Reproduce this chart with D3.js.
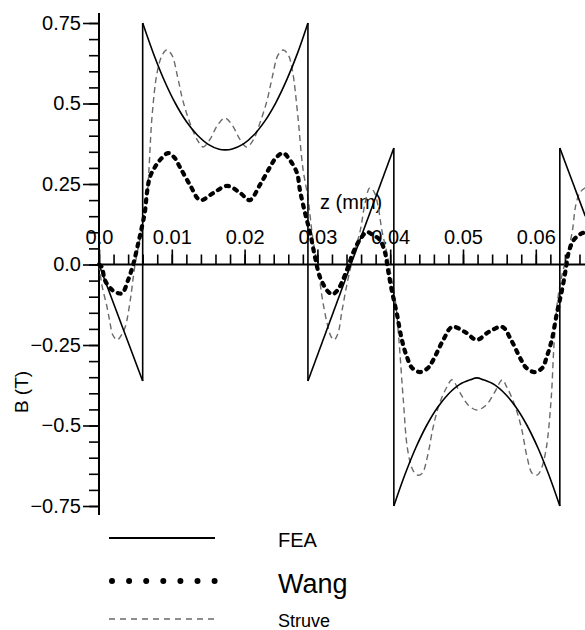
<!DOCTYPE html>
<html>
<head>
<meta charset="utf-8">
<script src="https://cdn.jsdelivr.net/npm/d3@7"></script>
<style>
  html, body { margin: 0; padding: 0; background: #fff; }
  svg { display: block; }
  text { font-family: "Liberation Sans", Arial, sans-serif; fill: #000; }
</style>
</head>
<body>
<svg id="chart" width="585" height="630"></svg>
<script>
// ---------- DATA (z in mm, B in T) ----------
const feaZ = [0, 0.0060, 0.0060, 0.0075, 0.0090, 0.0105, 0.0120, 0.0135, 0.0150, 0.0165, 0.0174, 0.0183, 0.0198, 0.0213, 0.0228, 0.0243, 0.0258, 0.0273, 0.0287,
  0.0287, 0.0405,
  0.0405, 0.0420, 0.0435, 0.0450, 0.0465, 0.0480, 0.0495, 0.0510, 0.0519, 0.0528, 0.0543, 0.0558, 0.0573, 0.0588, 0.0603, 0.0618, 0.0633,
  0.0633, 0.0668];
const feaB = [0, -0.362, 0.75, 0.654, 0.570, 0.500, 0.444, 0.402, 0.373, 0.358, 0.356, 0.359, 0.374, 0.403, 0.446, 0.503, 0.574, 0.658, 0.75,
  -0.362, 0.362,
  -0.75, -0.654, -0.570, -0.500, -0.444, -0.402, -0.373, -0.358, -0.352, -0.358, -0.373, -0.402, -0.444, -0.500, -0.570, -0.654, -0.75,
  0.362, 0.150];

const wangZ = [0, 0.0004, 0.0008, 0.0018, 0.0026, 0.0032, 0.0040, 0.0047, 0.0054, 0.0058, 0.0063, 0.0066, 0.0070, 0.0077, 0.0084, 0.0095, 0.0104, 0.0111, 0.0125, 0.0139,
  0.0157, 0.0176, 0.0194, 0.0207, 0.0221, 0.0235, 0.0243, 0.0253, 0.0262, 0.0272, 0.0276, 0.0283, 0.0290, 0.0297, 0.0304, 0.0315, 0.0321, 0.0328, 0.0335, 0.0342,
  0.0349, 0.0358, 0.0368, 0.0376, 0.0386, 0.0393, 0.0397, 0.0402, 0.0409, 0.0416, 0.0423, 0.0430, 0.0441, 0.0452, 0.0459, 0.0473, 0.0485, 0.0503, 0.0519, 0.0535,
  0.0554, 0.0566, 0.0580, 0.0587, 0.0598, 0.0609, 0.0615, 0.0622, 0.0629, 0.0636, 0.0641, 0.0645, 0.0652, 0.0661, 0.0668];
const wangB = [0, -0.008, -0.048, -0.079, -0.089, -0.089, -0.048, 0.000, 0.067, 0.107, 0.163, 0.225, 0.272, 0.303, 0.325, 0.346, 0.331, 0.303, 0.247, 0.200,
  0.222, 0.244, 0.222, 0.200, 0.247, 0.303, 0.331, 0.346, 0.325, 0.284, 0.231, 0.160, 0.098, 0.020, -0.042, -0.085, -0.092, -0.079, -0.048, -0.008,
  0.036, 0.076, 0.101, 0.092, 0.076, 0.036, -0.017, -0.079, -0.151, -0.234, -0.287, -0.321, -0.334, -0.321, -0.297, -0.234, -0.194, -0.210, -0.234, -0.210,
  -0.194, -0.234, -0.297, -0.321, -0.334, -0.321, -0.287, -0.234, -0.151, -0.079, -0.017, 0.036, 0.076, 0.094, 0.101];

const struveZ = [0, 0.0004, 0.0011, 0.0015, 0.0019, 0.0025, 0.0030, 0.0036, 0.0043, 0.0049, 0.0058, 0.0066, 0.0073, 0.0080, 0.0087, 0.0093, 0.0100, 0.0108, 0.0115, 0.0125,
  0.0135, 0.0143, 0.0152, 0.0163, 0.0173, 0.0183, 0.0194, 0.0203, 0.0212, 0.0221, 0.0231, 0.0238, 0.0246, 0.0253, 0.0260, 0.0266, 0.0273, 0.0280, 0.0287, 0.0294,
  0.0301, 0.0306, 0.0313, 0.0319, 0.0323, 0.0328, 0.0334, 0.0341, 0.0349, 0.0359, 0.0365, 0.0372, 0.0378, 0.0383, 0.0389, 0.0396, 0.0401, 0.0407, 0.0412, 0.0418,
  0.0424, 0.0431, 0.0437, 0.0444, 0.0451, 0.0459, 0.0468, 0.0478, 0.0485, 0.0496, 0.0507, 0.0519, 0.0532, 0.0543, 0.0554, 0.0560, 0.0570, 0.0580, 0.0588, 0.0595,
  0.0602, 0.0607, 0.0614, 0.0621, 0.0625, 0.0630, 0.0636, 0.0643, 0.0650, 0.0655, 0.0661, 0.0668];
const struveB = [0, -0.064, -0.132, -0.179, -0.219, -0.234, -0.222, -0.194, -0.110, -0.008, 0.101, 0.216, 0.464, 0.598, 0.651, 0.666, 0.651, 0.582, 0.511, 0.439,
  0.387, 0.365, 0.387, 0.433, 0.455, 0.433, 0.387, 0.365, 0.387, 0.439, 0.511, 0.582, 0.651, 0.666, 0.651, 0.598, 0.464, 0.300, 0.207, 0.076,
  -0.011, -0.095, -0.179, -0.225, -0.234, -0.216, -0.141, -0.057, 0.023, 0.107, 0.185, 0.238, 0.225, 0.185, 0.101, 0.030, -0.033, -0.110, -0.234, -0.421,
  -0.576, -0.638, -0.654, -0.648, -0.598, -0.505, -0.430, -0.380, -0.358, -0.399, -0.436, -0.452, -0.436, -0.399, -0.358, -0.380, -0.430, -0.505, -0.598, -0.648,
  -0.654, -0.638, -0.576, -0.421, -0.250, -0.110, -0.033, 0.030, 0.101, 0.185, 0.225, 0.238];

const xTickValues = [0, 0.01, 0.02, 0.03, 0.04, 0.05, 0.06];
const xTickLabels = ["0.0", "0.01", "0.02", "0.03", "0.04", "0.05", "0.06"];
const yTickValues = [0.75, 0.5, 0.25, 0, -0.25, -0.5, -0.75];
const yTickLabels = ["0.75", "0.5", "0.25", "0.0", "\u22120.25", "\u22120.5", "\u22120.75"];
const xAxisTitle = "z (mm)";
const yAxisTitle = "B (T)";
const seriesNames = ["FEA", "Wang", "Struve"];

// ---------- SCALES ----------
const svg = d3.select("#chart");
const x = d3.scaleLinear().domain([0, 0.0668]).range([99, 99 + 7280 * 0.0668]);
const y = d3.scaleLinear().domain([-0.75, 0.75]).range([506, 23]);
const y0 = y(0);

// ---------- AXES ----------
const xMinor = d3.range(0, 34).map(i => i * 0.002);
const yMinor = d3.range(0, 31).map(i => -0.75 + i * 0.05);

// x-axis minor ticks (upwards)
svg.append("g").attr("transform", `translate(0,${y0})`)
  .call(d3.axisTop(x).tickValues(xMinor).tickSize(10).tickFormat(""))
  .call(g => g.select(".domain").remove())
  .call(g => g.selectAll("line").attr("stroke", "#000").attr("stroke-width", 1.6));
// x-axis major ticks with labels
const xLab = d3.scaleOrdinal().domain(xTickValues).range(xTickLabels);
svg.append("g").attr("transform", `translate(0,${y0})`)
  .call(d3.axisTop(x).tickValues(xTickValues).tickSize(15).tickPadding(6).tickFormat(d => xLab(d)))
  .call(g => g.select(".domain").remove())
  .call(g => g.selectAll("line").attr("stroke", "#000").attr("stroke-width", 1.6))
  .call(g => g.selectAll("text").attr("font-size", 20).attr("font-family", "Liberation Sans, Arial, sans-serif").attr("fill", "#000"));

// y-axis minor ticks
svg.append("g").attr("transform", `translate(${x(0)},0)`)
  .call(d3.axisLeft(y).tickValues(yMinor).tickSize(10).tickFormat(""))
  .call(g => g.select(".domain").remove())
  .call(g => g.selectAll("line").attr("stroke", "#000").attr("stroke-width", 1.6));
const yLab = d3.scaleOrdinal().domain(yTickValues).range(yTickLabels);
svg.append("g").attr("transform", `translate(${x(0)},0)`)
  .call(d3.axisLeft(y).tickValues(yTickValues).tickSize(16).tickPadding(2).tickFormat(d => yLab(d)))
  .call(g => g.select(".domain").remove())
  .call(g => g.selectAll("line").attr("stroke", "#000").attr("stroke-width", 1.6))
  .call(g => g.selectAll("text").attr("font-size", 20).attr("font-family", "Liberation Sans, Arial, sans-serif").attr("fill", "#000"));

// axis lines
svg.append("line").attr("x1", x(0)).attr("x2", 585).attr("y1", y0).attr("y2", y0)
  .attr("stroke", "#000").attr("stroke-width", 2);
svg.append("line").attr("x1", x(0)).attr("x2", x(0)).attr("y1", 13).attr("y2", 515)
  .attr("stroke", "#000").attr("stroke-width", 2);

// axis titles
svg.append("text").attr("x", 320).attr("y", 209).attr("font-size", 20).text(xAxisTitle);
svg.append("text").attr("transform", "translate(28,392) rotate(-90)")
  .attr("text-anchor", "middle").attr("font-size", 19).text(yAxisTitle);

// ---------- SERIES ----------
const plot = svg.append("g");
const line = d3.line().x(d => x(d[0])).y(d => y(d[1])).curve(d3.curveCatmullRom.alpha(0.5));
const linLine = d3.line().x(d => x(d[0])).y(d => y(d[1]));

// FEA: split into pieces at the jumps
const feaPts = feaZ.map((z, i) => [z, feaB[i]]);
const pieces = [];
let cur = [feaPts[0]];
for (let i = 1; i < feaPts.length; i++) {
  if (feaPts[i][0] === feaPts[i - 1][0]) {
    pieces.push(cur);
    pieces.push([feaPts[i - 1], feaPts[i]]); // vertical jump
    cur = [feaPts[i]];
  } else cur.push(feaPts[i]);
}
pieces.push(cur);

const struvePts = struveZ.map((z, i) => [z, struveB[i]]);
plot.append("path").attr("d", line(struvePts)).attr("fill", "none")
  .attr("stroke", "#6a6a6a").attr("stroke-width", 1.4).attr("stroke-dasharray", "6,4");

pieces.forEach(p => {
  plot.append("path").attr("d", p.length > 2 ? line(p) : linLine(p)).attr("fill", "none")
    .attr("stroke", "#000").attr("stroke-width", 1.6);
});

const wangPts = wangZ.map((z, i) => [z, wangB[i]]);
plot.append("path").attr("d", line(wangPts)).attr("fill", "none")
  .attr("stroke", "#000").attr("stroke-width", 4.2).attr("stroke-linecap", "round")
  .attr("stroke-dasharray", "3,6");

// ---------- LEGEND ----------
const leg = svg.append("g");
leg.append("line").attr("x1", 109).attr("x2", 215).attr("y1", 538).attr("y2", 538)
  .attr("stroke", "#000").attr("stroke-width", 2);
leg.append("line").attr("x1", 112).attr("x2", 215).attr("y1", 581).attr("y2", 581)
  .attr("stroke", "#000").attr("stroke-width", 6).attr("stroke-linecap", "round")
  .attr("stroke-dasharray", "0,17.1");
leg.append("line").attr("x1", 109).attr("x2", 215).attr("y1", 619).attr("y2", 619)
  .attr("stroke", "#6a6a6a").attr("stroke-width", 1.5).attr("stroke-dasharray", "6,5");
leg.append("text").attr("x", 278).attr("y", 547).attr("font-size", 20).text(seriesNames[0]);
leg.append("text").attr("x", 278).attr("y", 593).attr("font-size", 27).text(seriesNames[1]);
leg.append("text").attr("x", 278).attr("y", 627).attr("font-size", 18).text(seriesNames[2]);
</script>
</body>
</html>
